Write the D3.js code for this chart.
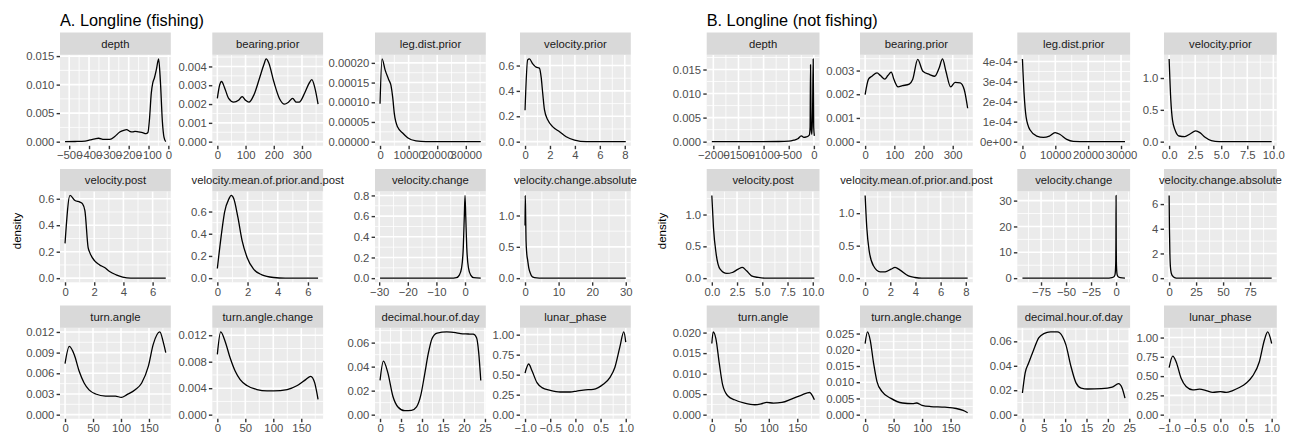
<!DOCTYPE html>
<html>
<head>
<meta charset="utf-8">
<script src="https://cdn.jsdelivr.net/npm/d3@7"></script>
<style>
  body { margin: 0; background: #fff; }
</style>
</head>
<body>
<div id="chart"></div>
<script>
const groupTitles = ["A. Longline (fishing)", "B. Longline (not fishing)"];
const facetNames = ["depth", "bearing.prior", "leg.dist.prior", "velocity.prior",
  "velocity.post", "velocity.mean.of.prior.and.post", "velocity.change", "velocity.change.absolute",
  "turn.angle", "turn.angle.change", "decimal.hour.of.day", "lunar_phase"];

// density curves, [value, density] pairs
// A. fishing
const fishDepth = [[-521,0],[-470,0.00003],[-420,0.0001],[-395,0.0003],[-370,0.0005],[-352,0.0006],[-325,0.0004],[-295,0.0004],[-270,0.0009],[-245,0.0017],[-225,0.002],[-210,0.0021],[-195,0.0018],[-180,0.0017],[-168,0.0018],[-150,0.0017],[-130,0.0016],[-113,0.0014],[-103,0.0016],[-95,0.004],[-86,0.0085],[-79,0.0102],[-70,0.0112],[-60,0.0127],[-49,0.0145],[-40,0.0105],[-30,0.0035],[-22,0.0008],[-13,0]];
const fishBearing = [[0,0.0023],[8,0.003],[15,0.0032],[25,0.0029],[40,0.0023],[58,0.0021],[75,0.0022],[88,0.0024],[100,0.0022],[112,0.0021],[130,0.0025],[150,0.0034],[165,0.0041],[173,0.0044],[182,0.0042],[200,0.0032],[220,0.0023],[238,0.002],[252,0.0021],[267,0.0023],[280,0.0021],[290,0.0021],[310,0.0026],[325,0.0031],[335,0.0033],[345,0.0029],[357,0.002]];
const fishLeg = [[0,0.000096],[700,0.00021],[1740,0.000183],[3000,0.000158],[3840,0.000142],[4420,0.000113],[5000,0.000071],[6160,0.000037],[7910,0.000022],[9650,0.00001],[12560,0.000002],[16050,0],[35230,0]];
const fishVelPrior = [[0,0.248],[0.21,0.644],[0.35,0.652],[0.62,0.613],[0.89,0.587],[1.15,0.58],[1.29,0.51],[1.42,0.38],[1.56,0.25],[1.83,0.17],[2.23,0.117],[2.77,0.078],[3.3,0.039],[3.97,0.013],[4.91,0],[8.08,0]];
const fishVelPost = [[0,0.263],[0.34,0.625],[0.68,0.587],[1.02,0.575],[1.2,0.562],[1.36,0.511],[1.58,0.233],[1.69,0.195],[2.03,0.13],[2.37,0.1],[2.71,0.08],[3.05,0.05],[3.5,0.025],[3.95,0.008],[4.5,0],[6.9,0]];
const fishVelMean = [[0,0.087],[0.33,0.458],[0.48,0.594],[0.77,0.715],[0.92,0.745],[1.09,0.715],[1.36,0.549],[1.64,0.338],[1.97,0.187],[2.4,0.081],[2.95,0.03],[3.72,0.006],[4.5,0],[6.67,0]];
const fishVelChange = [[-29.7,0],[-5,0],[-3,0.005],[-2,0.03],[-1.2,0.1],[-0.6,0.3],[-0.25,0.6],[0,0.8],[0.25,0.6],[0.6,0.3],[1.2,0.1],[2,0.03],[3,0.005],[5.5,0]];
const fishVelAbs = [[0,0.84],[0.05,1.32],[0.15,1.1],[0.3,0.6],[0.5,0.4],[0.8,0.28],[1.1,0.17],[1.5,0.09],[2.2,0.02],[3.5,0.003],[5,0],[30,0]];
const fishTurn = [[0,0.0074],[7.6,0.0099],[16.5,0.0087],[25.3,0.0063],[34.1,0.0046],[42.9,0.0036],[54.7,0.003],[72.4,0.0027],[90,0.0027],[100.6,0.0025],[110.6,0.0029],[125.3,0.0036],[137,0.0046],[148.8,0.007],[157.6,0.0102],[169.4,0.012],[175.3,0.0106],[180,0.009]];
const fishTurnChange = [[0,0.0091],[6,0.0125],[13.8,0.0111],[22.8,0.0086],[31.8,0.0066],[40.8,0.0053],[52.8,0.0044],[70.8,0.0038],[88.8,0.0036],[100.8,0.0036],[124.8,0.0038],[142.9,0.0044],[157.9,0.0053],[166.9,0.0058],[174,0.0048],[180,0.0023]];
const fishHour = [[0,0.0285],[0.8,0.0446],[1.85,0.035],[3.06,0.0153],[4.27,0.0064],[5.88,0.0033],[7.49,0.0036],[8.7,0.0065],[9.7,0.016],[10.6,0.033],[11.5,0.051],[12.4,0.0635],[13.6,0.068],[15.9,0.0689],[18,0.0683],[19.2,0.0675],[21,0.0672],[22.2,0.067],[23,0.064],[23.5,0.052],[24,0.0285]];
const fishLunar = [[-1,0.519],[-0.928,0.633],[-0.862,0.549],[-0.763,0.4],[-0.664,0.338],[-0.5,0.304],[-0.303,0.283],[-0.105,0.283],[0.026,0.295],[0.158,0.308],[0.355,0.316],[0.454,0.338],[0.553,0.38],[0.684,0.464],[0.783,0.59],[0.882,0.844],[0.961,1.034],[1,0.907]];

// B. not fishing
const notDepth = [[-2030,0],[-1200,0],[-700,0.00003],[-500,0.0001],[-400,0.0003],[-320,0.0006],[-250,0.0012],[-200,0.0009],[-150,0.001],[-110,0.0012],[-90,0.0014],[-75,0.003],[-66,0.016],[-55,0.003],[-40,0.0015],[-26,0.006],[-13,0.0172],[-3,0.003],[10,0.0012]];
const notBearing = [[0,0.00198],[11.6,0.00264],[23.3,0.00276],[40.7,0.0029],[52.3,0.00279],[67.4,0.00264],[77.9,0.00279],[89.5,0.00293],[98.8,0.00262],[112.8,0.00231],[127.9,0.00236],[151.2,0.00243],[162.8,0.00262],[180.2,0.00347],[197.7,0.00297],[220.9,0.00283],[238.4,0.00276],[253.5,0.00311],[265.1,0.00349],[276.7,0.00297],[293,0.00231],[308,0.0025],[325.6,0.00248],[339.5,0.00219],[351.2,0.00141]];
const notLeg = [[0,0.000413],[507,0.00024],[1115,0.000124],[2330,0.000058],[4356,0.000028],[6383,0.000021],[8206,0.000028],[9929,0.000045],[11449,0.000036],[13475,0.0000116],[15500,0.0000017],[19553,0],[31200,0]];
const notVelPrior = [[0,1.3],[0.16,0.658],[0.32,0.342],[0.57,0.184],[0.95,0.089],[1.5,0.079],[2.0,0.121],[2.55,0.168],[2.95,0.142],[3.45,0.068],[4.05,0.016],[4.8,0],[9.84,0]];
const notVelPost = [[0,1.3],[0.16,0.8],[0.43,0.379],[0.82,0.142],[1.48,0.074],[2.03,0.089],[2.62,0.142],[3.02,0.168],[3.44,0.116],[3.93,0.037],[4.59,0.011],[5.25,0],[10.16,0]];
const notVelMean = [[0,1.273],[0.13,0.784],[0.32,0.423],[0.66,0.191],[1.19,0.098],[1.59,0.098],[2.06,0.139],[2.38,0.165],[2.78,0.124],[3.44,0.036],[3.97,0.01],[4.5,0],[8.15,0]];
const notVelChange = [[-93.6,0],[-10,0],[-4,0.2],[-2,0.6],[-1,1.5],[-0.4,5],[-0.15,15],[0,32],[0.15,15],[0.4,5],[1,1.5],[2,0.6],[4,0.2],[8.9,0]];
const notVelAbs = [[0,6.7],[0.3,4],[0.7,2],[1.2,0.9],[2,0.4],[3,0.2],[5,0.05],[8,0],[95,0]];
const notTurn = [[0,0.01734],[2.4,0.02016],[7.1,0.01855],[13.1,0.0125],[19,0.00726],[27.9,0.0046],[39.8,0.00363],[57.6,0.00282],[75.4,0.00242],[87.3,0.00266],[96.2,0.00298],[108.1,0.00282],[122.9,0.00298],[140.7,0.00387],[158.6,0.00484],[171.6,0.0054],[180,0.00363]];
const notTurnChange = [[0,0.0219],[4.2,0.0255],[8.9,0.023],[14.9,0.0158],[20.8,0.0102],[29.8,0.0071],[44.6,0.0051],[65.5,0.0036],[83.3,0.0034],[90,0.0036],[100,0.0029],[115,0.0025],[140,0.0023],[160,0.0019],[172,0.0013],[180,0.0006]];
const notHour = [[0,0.0177],[0.63,0.034],[1.43,0.042],[2.62,0.053],[3.81,0.0628],[5,0.0663],[6.59,0.0677],[8.17,0.0677],[9.37,0.064],[10.16,0.0573],[11.35,0.0396],[12.54,0.026],[13.73,0.0218],[15.3,0.021],[18.5,0.0213],[21,0.0225],[22.5,0.0254],[23.3,0.022],[24,0.0136]];
const notLunar = [[-1,0.609],[-0.929,0.76],[-0.864,0.687],[-0.766,0.472],[-0.669,0.365],[-0.539,0.322],[-0.409,0.33],[-0.279,0.313],[-0.149,0.288],[0,0.3],[0.11,0.288],[0.24,0.313],[0.37,0.352],[0.5,0.408],[0.63,0.502],[0.76,0.687],[0.857,0.966],[0.922,1.073],[1,0.923]];

const fishCurves = [fishDepth, fishBearing, fishLeg, fishVelPrior, fishVelPost, fishVelMean, fishVelChange, fishVelAbs, fishTurn, fishTurnChange, fishHour, fishLunar];
const notCurves = [notDepth, notBearing, notLeg, notVelPrior, notVelPost, notVelMean, notVelChange, notVelAbs, notTurn, notTurnChange, notHour, notLunar];

// tick labels per facet
const fishXTicks = [
  ["-500","-400","-300","-200","-100","0"], ["0","100","200","300"], ["0","10000","20000","30000"], ["0","2","4","6","8"],
  ["0","2","4","6"], ["0","2","4","6"], ["-30","-20","-10","0"], ["0","10","20","30"],
  ["0","50","100","150"], ["0","50","100","150"], ["0","5","10","15","20","25"], ["-1.0","-0.5","0.0","0.5","1.0"]
];
const fishYTicks = [
  ["0.000","0.005","0.010","0.015"], ["0.000","0.001","0.002","0.003","0.004"], ["0.00000","0.00005","0.00010","0.00015","0.00020"], ["0.0","0.2","0.4","0.6"],
  ["0.0","0.2","0.4","0.6"], ["0.0","0.2","0.4","0.6"], ["0.0","0.2","0.4","0.6","0.8"], ["0.0","0.5","1.0"],
  ["0.000","0.003","0.006","0.009","0.012"], ["0.000","0.004","0.008","0.012"], ["0.00","0.02","0.04","0.06"], ["0.00","0.25","0.50","0.75","1.00"]
];
const notXTicks = [
  ["-2000","-1500","-1000","-500","0"], ["0","100","200","300"], ["0","10000","20000","30000"], ["0.0","2.5","5.0","7.5","10.0"],
  ["0.0","2.5","5.0","7.5","10.0"], ["0","2","4","6","8"], ["-75","-50","-25","0"], ["0","25","50","75"],
  ["0","50","100","150"], ["0","50","100","150"], ["0","5","10","15","20","25"], ["-1.0","-0.5","0.0","0.5","1.0"]
];
const notYTicks = [
  ["0.000","0.005","0.010","0.015"], ["0.000","0.001","0.002","0.003"], ["0e+00","1e-04","2e-04","3e-04","4e-04"], ["0.0","0.5","1.0"],
  ["0.0","0.5","1.0"], ["0.0","0.5","1.0"], ["0","10","20","30"], ["0","2","4","6"],
  ["0.000","0.005","0.010","0.015","0.020"], ["0.000","0.005","0.010","0.015","0.020","0.025"], ["0.00","0.02","0.04","0.06"], ["0.00","0.25","0.50","0.75","1.00"]
];

const FONT = "'Liberation Sans', Arial, Helvetica, sans-serif";
const width = 1291, height = 435;
const rowTops = [32.5, 169, 305.5];
const stripH = 22.3, ph = 91;
const textSize = 11.3;

const groups = [
  {title: groupTitles[0], curves: fishCurves, xt: fishXTicks, yt: fishYTicks, lefts: [60, 212.3, 375, 520], pw: 110.8, ylabX: 21},
  {title: groupTitles[1], curves: notCurves, xt: notXTicks, yt: notYTicks, lefts: [706.7, 860, 1017.3, 1164], pw: 112.8, ylabX: 666}
];

const svg = d3.select("#chart").append("svg")
  .attr("width", width)
  .attr("height", height)
  .style("font-family", FONT);

// minor breaks halfway between majors, as ggplot does
function minorBreaks(major, domain) {
  const step = major[1] - major[0];
  const all = [major[0] - step, ...major, major[major.length - 1] + step];
  const out = [];
  for (let i = 0; i < all.length - 1; i++) {
    const m = (all[i] + all[i + 1]) / 2;
    if (m >= domain[0] && m <= domain[1]) out.push(m);
  }
  return out;
}

function styleAxis(g) {
  g.select(".domain").remove();
  g.attr("font-size", textSize).attr("font-family", FONT);
  g.selectAll("line").attr("stroke", "#333333").attr("stroke-width", 1.4);
  g.selectAll("text").attr("fill", "#4D4D4D");
}

let clipId = 0;

groups.forEach(grp => {
  svg.append("text")
    .attr("x", grp.lefts[0])
    .attr("y", 26)
    .attr("font-size", 16.3)
    .attr("fill", "#000")
    .text(grp.title);

  svg.append("text")
    .attr("transform", `translate(${grp.ylabX},231) rotate(-90)`)
    .attr("text-anchor", "middle")
    .attr("font-size", 11.5)
    .attr("fill", "#000")
    .text("density");

  grp.curves.forEach((pts, i) => {
    const col = i % 4, row = Math.floor(i / 4);
    const x0 = grp.lefts[col], pw = grp.pw;
    const top = rowTops[row], py = top + stripH;

    const xe = d3.extent(pts, d => d[0]);
    const xr = xe[1] - xe[0];
    const x = d3.scaleLinear()
      .domain([xe[0] - 0.05 * xr, xe[1] + 0.05 * xr])
      .range([x0, x0 + pw]);
    const ymax = d3.max(pts, d => d[1]);
    const y = d3.scaleLinear()
      .domain([-0.05 * ymax, 1.05 * ymax])
      .range([py + ph, py]);

    const xLabels = grp.xt[i], yLabels = grp.yt[i];
    const xVals = xLabels.map(Number), yVals = yLabels.map(Number);

    // panel background
    svg.append("rect")
      .attr("x", x0).attr("y", py).attr("width", pw).attr("height", ph)
      .attr("fill", "#EBEBEB");

    const grid = svg.append("g");
    minorBreaks(xVals, x.domain()).forEach(v => {
      grid.append("line").attr("x1", x(v)).attr("x2", x(v)).attr("y1", py).attr("y2", py + ph)
        .attr("stroke", "#fff").attr("stroke-width", 0.8);
    });
    minorBreaks(yVals, y.domain()).forEach(v => {
      grid.append("line").attr("y1", y(v)).attr("y2", y(v)).attr("x1", x0).attr("x2", x0 + pw)
        .attr("stroke", "#fff").attr("stroke-width", 0.8);
    });
    xVals.forEach(v => {
      grid.append("line").attr("x1", x(v)).attr("x2", x(v)).attr("y1", py).attr("y2", py + ph)
        .attr("stroke", "#fff").attr("stroke-width", 1.6);
    });
    yVals.forEach(v => {
      grid.append("line").attr("y1", y(v)).attr("y2", y(v)).attr("x1", x0).attr("x2", x0 + pw)
        .attr("stroke", "#fff").attr("stroke-width", 1.6);
    });

    // density line
    const id = "clip" + (clipId++);
    svg.append("clipPath").attr("id", id)
      .append("rect").attr("x", x0).attr("y", py).attr("width", pw).attr("height", ph);

    svg.append("path")
      .datum(pts)
      .attr("clip-path", `url(#${id})`)
      .attr("fill", "none")
      .attr("stroke", "#000")
      .attr("stroke-width", 1.3)
      .attr("stroke-linejoin", "round")
      .attr("d", d3.line().x(d => x(d[0])).y(d => y(d[1])).curve(d3.curveMonotoneX));

    // axes
    const xMap = new Map(xVals.map((v, k) => [v, xLabels[k].replace(/^-/, "\u2212")]));
    svg.append("g")
      .attr("transform", `translate(0,${py + ph})`)
      .call(d3.axisBottom(x).tickValues(xVals).tickFormat(d => xMap.get(d)).tickSize(3.4).tickPadding(2.2))
      .call(styleAxis);

    const yMap = new Map(yVals.map((v, k) => [v, yLabels[k]]));
    svg.append("g")
      .attr("transform", `translate(${x0},0)`)
      .call(d3.axisLeft(y).tickValues(yVals).tickFormat(d => yMap.get(d)).tickSize(3.4).tickPadding(2.2))
      .call(styleAxis);

    // strip
    svg.append("rect")
      .attr("x", x0).attr("y", top).attr("width", pw).attr("height", stripH)
      .attr("fill", "#D9D9D9");
    svg.append("text")
      .attr("x", x0 + pw / 2)
      .attr("y", top + stripH / 2)
      .attr("dy", "0.35em")
      .attr("text-anchor", "middle")
      .attr("font-size", textSize)
      .attr("fill", "#1A1A1A")
      .text(facetNames[i]);
  });
});
</script>
</body>
</html>
